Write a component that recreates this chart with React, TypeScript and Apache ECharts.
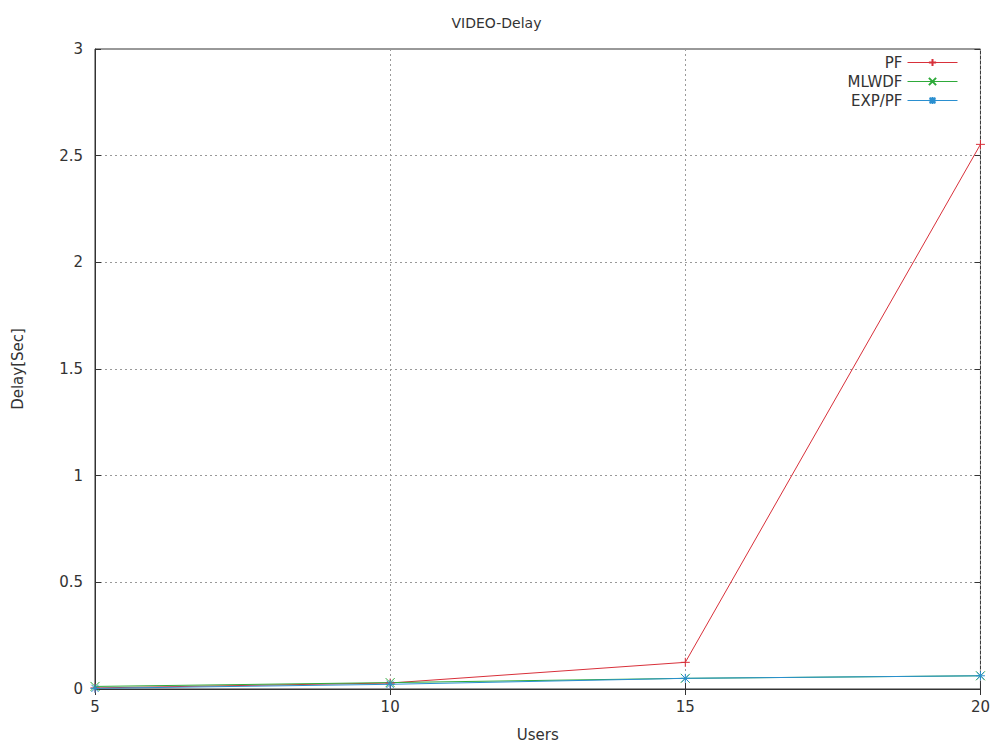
import React, { useEffect, useRef } from "react";
import * as echarts from "echarts";

const users = [5, 10, 15, 20];
const pf = [0.005, 0.028, 0.125, 2.553];
const mlwdf = [0.012, 0.03, 0.05, 0.062];
const exppf = [0.003, 0.022, 0.05, 0.062];
const seriesNames = ["PF", "MLWDF", "EXP/PF"];
const colors = ["#d8303a", "#2eaa3a", "#2a8fd0"];
const symbols = [
  "path://M0,5L10,5M5,0L5,10",
  "path://M0,0L10,10M10,0L0,10",
  "path://M0,5L10,5M5,0L5,10M1,1L9,9M9,1L1,9",
];

const FONT = "DejaVu Sans";

export default function App() {
  const ref = useRef<HTMLDivElement>(null);
  useEffect(() => {
    const chart = echarts.init(ref.current!, null, { renderer: "svg" });
    const data = [pf, mlwdf, exppf];
    const mirrorAxis = {
      axisLine: { show: false },
      axisLabel: { show: false },
      splitLine: { show: false },
      axisTick: { show: true, inside: true, length: 6, lineStyle: { color: "#333" } },
    };
    chart.setOption({
      animation: false,
      backgroundColor: "#fff",
      title: {
        text: "VIDEO-Delay",
        left: "center",
        top: 11,
        textStyle: { fontFamily: FONT, fontSize: 14, fontWeight: "normal", color: "#333" },
      },
      legend: {
        right: 30,
        top: 50,
        orient: "vertical",
        align: "right",
        itemWidth: 50,
        itemHeight: 9,
        itemGap: 4,
        lineStyle: { width: 1 },
        textStyle: { fontFamily: FONT, fontSize: 15, color: "#333" },
        data: seriesNames,
      },
      grid: {
        left: 95,
        right: 12,
        top: 49,
        bottom: 58,
        show: true,
        borderColor: "#333",
        borderWidth: 1,
      },
      xAxis: [
        {
          type: "value",
          min: 5,
          max: 20,
          interval: 5,
          name: "Users",
          nameLocation: "middle",
          nameGap: 38,
          nameTextStyle: { fontFamily: FONT, fontSize: 15, color: "#333" },
          axisLine: { show: true, lineStyle: { color: "#333" } },
          axisTick: { show: true, inside: true, length: 6, lineStyle: { color: "#333" } },
          axisLabel: { fontFamily: FONT, fontSize: 15, color: "#333", margin: 10 },
          splitLine: { show: true, lineStyle: { type: [2, 3], color: "#999" } },
        },
        { type: "value", position: "top", min: 5, max: 20, interval: 5, ...mirrorAxis },
      ],
      yAxis: [
        {
          type: "value",
          min: 0,
          max: 3,
          interval: 0.5,
          name: "Delay[Sec]",
          nameLocation: "middle",
          nameGap: 70,
          nameTextStyle: { fontFamily: FONT, fontSize: 15, color: "#333" },
          axisLine: { show: true, lineStyle: { color: "#333" } },
          axisTick: { show: true, inside: true, length: 6, lineStyle: { color: "#333" } },
          axisLabel: { fontFamily: FONT, fontSize: 15, color: "#333", margin: 12 },
          splitLine: { show: true, lineStyle: { type: [2, 3], color: "#999" } },
        },
        { type: "value", position: "right", min: 0, max: 3, interval: 0.5, ...mirrorAxis },
      ],
      series: seriesNames.map((name, i) => ({
        name,
        type: "line",
        data: users.map((u, j) => [u, data[i][j]]),
        symbol: symbols[i],
        symbolSize: 9,
        showSymbol: true,
        lineStyle: { color: colors[i], width: 1 },
        itemStyle: { color: colors[i], borderColor: colors[i], borderWidth: 1 },
      })),
    });
    return () => chart.dispose();
  }, []);
  return (
    <div
      ref={ref}
      style={{ position: "fixed", left: 0, top: 0, width: 993, height: 747 }}
    />
  );
}
